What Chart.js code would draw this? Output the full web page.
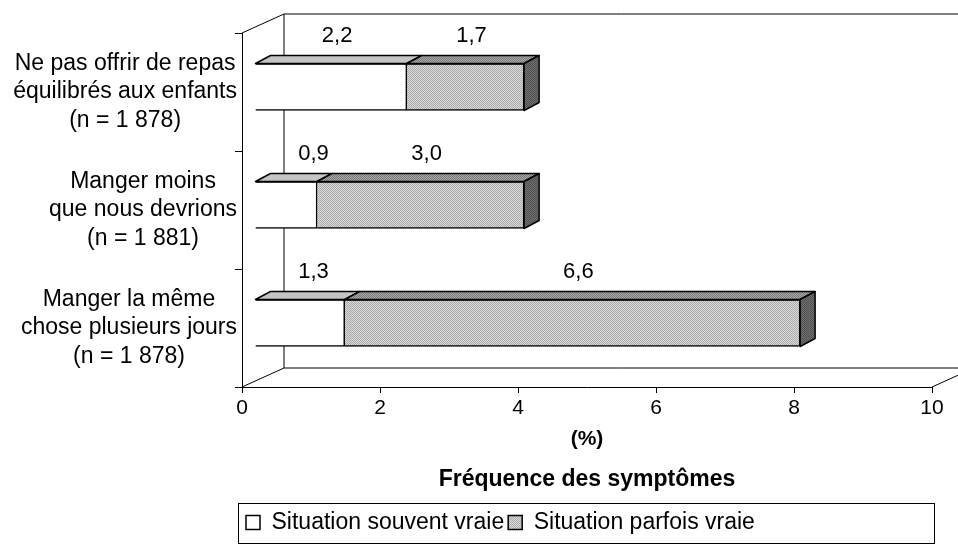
<!DOCTYPE html>
<html><head><meta charset="utf-8">
<script src="https://cdn.jsdelivr.net/npm/chart.js@4.4.1/dist/chart.umd.min.js"></script>
<style>html,body{margin:0;padding:0;background:#fff;}canvas{display:block;}</style>
</head><body>
<canvas id="c" width="958" height="544"></canvas>
<script>
// ---- data ----
const categories = [
  ["Ne pas offrir de repas", "équilibrés aux enfants", "(n = 1 878)"],
  ["Manger moins", "que nous devrions", "(n = 1 881)"],
  ["Manger la même", "chose plusieurs jours", "(n = 1 878)"]
];
const seriesNames = ["Situation souvent vraie", "Situation parfois vraie"];
const souvent = [2.2, 0.9, 1.3];
const parfois = [1.7, 3.0, 6.6];
const xTickValues = [0, 2, 4, 6, 8, 10];
const xTitle = "(%)";
const chartTitle = "Fréquence des symptômes";

// ---- styling helpers ----
const FONT = "'Liberation Sans', Arial, sans-serif";
Chart.defaults.font.family = FONT;
Chart.defaults.color = '#000';

function makePattern(c1, c2) {
  const p = document.createElement('canvas'); p.width = 2; p.height = 2;
  const g = p.getContext('2d');
  g.fillStyle = c1; g.fillRect(0, 0, 2, 2);
  g.fillStyle = c2; g.fillRect(0, 0, 1, 1); g.fillRect(1, 1, 1, 1);
  return g.createPattern(p, 'repeat');
}
const grayFront = makePattern('#dcdcdc', '#a8a8a8');
const grayTop = makePattern('#a8a8a8', '#7a7a7a');
const graySide = makePattern('#707070', '#505050');

const DX = 13, DY = -5;     // front face of bars relative to front plane
const TDX = 15, TDY = -8;   // bar depth
const WDX = 42, WDY = -19;  // wall depth

const fmt = v => v.toFixed(1).replace('.', ',');

const threeD = {
  id: 'threeD',
  beforeDatasetsDraw(chart) {
    const { ctx, chartArea: { left, right, top, bottom } } = chart;
    ctx.save();
    ctx.strokeStyle = '#000'; ctx.lineWidth = 1;
    ctx.beginPath();
    ctx.moveTo(left, top); ctx.lineTo(left + WDX, top + WDY); ctx.lineTo(right + WDX + 60, top + WDY);
    ctx.moveTo(left + WDX, top + WDY); ctx.lineTo(left + WDX, bottom + WDY); ctx.lineTo(right + WDX, bottom + WDY);
    ctx.moveTo(left, bottom); ctx.lineTo(left + WDX, bottom + WDY);
    ctx.moveTo(right, bottom); ctx.lineTo(right + WDX, bottom + WDY);
    ctx.stroke();
    ctx.restore();
    ctx.save();
    ctx.translate(DX, DY);
  },
  afterDatasetsDraw(chart) {
    const ctx = chart.ctx;
    ctx.restore();
    const metas = chart.getSortedVisibleDatasetMetas();
    metas.forEach((meta, di) => {
      const ds = chart.data.datasets[meta.index];
      meta.data.forEach((el, i) => {
        const p = el.getProps(['x', 'y', 'base', 'height'], true);
        const l = Math.min(p.x, p.base) + DX, r = Math.max(p.x, p.base) + DX;
        const t = p.y - p.height / 2 + DY, h = p.height;
        ctx.save();
        ctx.lineWidth = 1.5; ctx.strokeStyle = '#000'; ctx.lineJoin = 'round';
        ctx.beginPath();
        ctx.moveTo(l, t); ctx.lineTo(l + TDX, t + TDY); ctx.lineTo(r + TDX, t + TDY); ctx.lineTo(r, t); ctx.closePath();
        ctx.fillStyle = ds.topColor; ctx.fill(); ctx.stroke();
        if (di === metas.length - 1) {
          ctx.beginPath();
          ctx.moveTo(r, t); ctx.lineTo(r + TDX, t + TDY); ctx.lineTo(r + TDX, t + h + TDY); ctx.lineTo(r, t + h); ctx.closePath();
          ctx.fillStyle = graySide; ctx.fill(); ctx.stroke();
        }
        // value label
        const v = ds.data[i];
        let cx = (l + r) / 2 + 6;
        if (di === 0) cx = Math.max(cx, l + 58);
        ctx.fillStyle = '#000';
        ctx.font = '22px ' + FONT;
        ctx.textAlign = 'center'; ctx.textBaseline = 'middle';
        ctx.fillText(fmt(v), cx, t - 28);
        ctx.restore();
      });
    });
  },
  afterDraw(chart) {
    const ctx = chart.ctx;
    const ys = chart.scales.y;
    const ca = chart.chartArea;
    ctx.save();
    ctx.fillStyle = '#000';
    ctx.font = '23px ' + FONT;
    ctx.textAlign = 'center'; ctx.textBaseline = 'middle';
    const rightEdge = ca.left - 5;
    const lh = 28.5;
    categories.forEach((lines, i) => {
      const yc = ys.getPixelForValue(i);
      const w = Math.max(...lines.map(s => ctx.measureText(s).width));
      const cx = rightEdge - w / 2;
      lines.forEach((s, k) => ctx.fillText(s, cx, yc + (k - (lines.length - 1) / 2) * lh));
    });
    // legend frame
    const hb = chart.legend.legendHitBoxes;
    if (hb && hb.length) {
      const x0 = ca.left - 4;
      const x1 = ca.right + 2;
      const y0 = hb[0].top - 8;
      const y1 = Math.min(hb[0].top + hb[0].height + 10, chart.height - 1);
      ctx.strokeStyle = '#000'; ctx.lineWidth = 1;
      ctx.strokeRect(Math.round(x0) + 0.5, Math.round(y0) + 0.5, Math.round(x1 - x0), Math.round(y1 - y0));
    }
    ctx.restore();
  }
};

new Chart(document.getElementById('c').getContext('2d'), {
  type: 'bar',
  data: {
    labels: categories.map(c => c.join(' ')),
    datasets: [
      { label: seriesNames[0], data: souvent, backgroundColor: '#ffffff', borderColor: '#000', borderWidth: 1.5,
        barThickness: 47, topColor: '#c4c4c4' },
      { label: seriesNames[1], data: parfois, backgroundColor: grayFront, borderColor: '#000', borderWidth: 1.5,
        barThickness: 47, topColor: grayTop }
    ]
  },
  options: {
    indexAxis: 'y',
    responsive: false,
    animation: false,
    devicePixelRatio: 1,
    layout: { padding: { left: 242, right: 26, top: 33, bottom: 0 } },
    scales: {
      x: {
        stacked: true, min: 0, max: 10,
        afterBuildTicks(s) { s.ticks = xTickValues.map(v => ({ value: v })); },
        ticks: { color: '#000', font: { size: 21 }, padding: 3, maxRotation: 0 },
        grid: { drawOnChartArea: false, tickLength: 6, color: '#000', lineWidth: 1 },
        border: { color: '#000', width: 1 },
        title: { display: true, text: xTitle, color: '#000', font: { size: 21, weight: 'bold' }, padding: { top: 2, bottom: 0 } }
      },
      y: {
        stacked: true,
        ticks: { display: false },
        grid: { drawOnChartArea: false, tickLength: 7, color: '#000', offset: true },
        border: { color: '#000', width: 1 },
        afterFit(s) { s.width = 0; }
      }
    },
    plugins: {
      tooltip: { enabled: false },
      title: { display: true, position: 'bottom', text: chartTitle, weight: 500, fullSize: false,
        color: '#000', font: { size: 23, weight: 'bold' }, padding: { top: 14, bottom: 14 } },
      legend: {
        position: 'bottom', fullSize: false, align: 'start',
        labels: { color: '#000', font: { size: 23 }, boxWidth: 14, boxHeight: 14, padding: 4 }
      }
    }
  },
  plugins: [threeD]
});
</script>
</body></html>
